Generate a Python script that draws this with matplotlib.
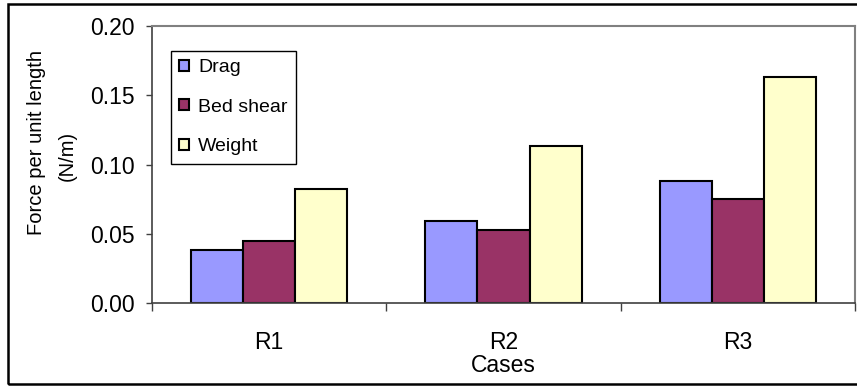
import numpy as np
import matplotlib
matplotlib.use('Agg')
import matplotlib.pyplot as plt
from matplotlib.patches import Rectangle

plt.rcParams['font.family'] = ['Liberation Sans', 'DejaVu Sans']
plt.rcParams['font.size'] = 16.5

cases = ['R1', 'R2', 'R3']
drag = [0.038, 0.059, 0.088]
bed_shear = [0.045, 0.053, 0.075]
weight = [0.082, 0.113, 0.163]

series = [('Drag', drag, '#9999FF'),
          ('Bed shear', bed_shear, '#993366'),
          ('Weight', weight, '#FFFFCC')]

W, H = 857, 387
fig = plt.figure(figsize=(W / 100, H / 100), dpi=100)
ax = fig.add_axes([152 / W, 1 - 303 / H, (855 - 152) / W, (303 - 26) / H])

x = np.arange(len(cases))
bw = 1 / 4.5
for i, (name, vals, col) in enumerate(series):
    ax.bar(x + (i - 1) * bw, vals, bw, color=col, edgecolor='black',
           linewidth=1.5, label=name)

ax.set_xlim(-0.5, 2.5)
ax.set_ylim(0, 0.20)
ax.set_yticks(np.arange(0, 0.201, 0.05))
ax.set_yticklabels(['%.2f' % v for v in np.arange(0, 0.201, 0.05)])
ax.set_xticks(x)
ax.set_xticklabels(cases)
ax.set_xticks([-0.5, 0.5, 1.5, 2.5], minor=True)
ax.tick_params(axis='x', which='major', length=0, pad=20)
ax.tick_params(axis='x', which='minor', length=5.5, width=1, color='#404040')
ax.tick_params(axis='y', length=4.5, width=1, color='#404040', pad=8)
ax.set_xlabel('Cases', labelpad=0)

for s in ['left', 'bottom']:
    ax.spines[s].set_color('#404040')
    ax.spines[s].set_linewidth(1.2)
for s in ['top', 'right']:
    ax.spines[s].set_color('#808080')
    ax.spines[s].set_linewidth(1.5)

fig.text(37 / W, 1 - 142 / H, 'Force per unit length', rotation=90,
         ha='center', va='center', fontsize=14.5)
fig.text(67 / W, 1 - 156 / H, '(N/m)', rotation=90, ha='center',
         va='center', fontsize=14.5)

leg = ax.legend(loc='upper left', bbox_to_anchor=(0.0266, 0.911),
                borderaxespad=0, fancybox=False, framealpha=1,
                edgecolor='black', handlelength=0.5, handleheight=0.5,
                handletextpad=0.45, labelspacing=1.15, borderpad=0.45,
                fontsize=14)
leg.get_frame().set_linewidth(1.0)

# outer chart border
fig.patches.append(Rectangle((8 / W, 3 / H), 1.0, 380 / H,
                             transform=fig.transFigure, fill=False,
                             edgecolor='black', linewidth=1.8))

fig.savefig('out.png', dpi=100)
